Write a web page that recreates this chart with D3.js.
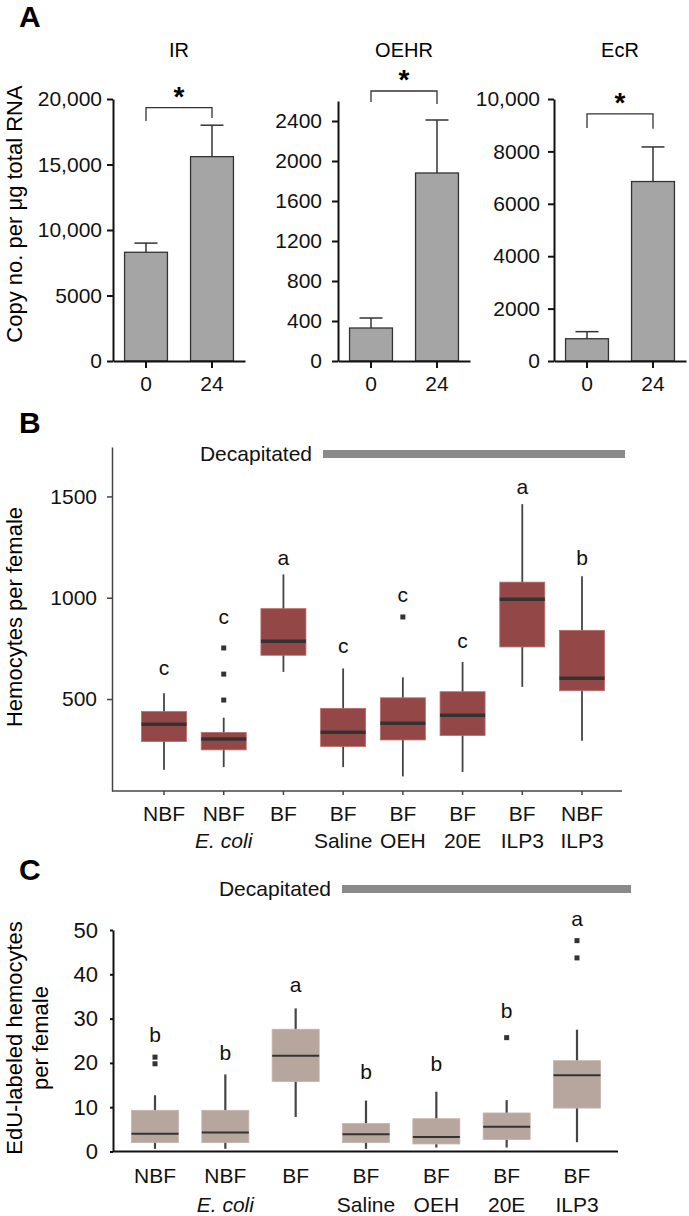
<!DOCTYPE html>
<html><head><meta charset="utf-8">
<script src="https://cdn.jsdelivr.net/npm/d3@7"></script>
<style>body{margin:0;background:#fff}svg{display:block;font-family:"Liberation Sans",Arial,Helvetica,sans-serif}</style>
</head><body><svg id="c" width="689" height="1216"></svg>
<script>
// ---------- Panel A data ----------
const aGenes = ["IR", "OEHR", "EcR"];
const aTimes = ["0", "24"];
const irMean = [8300, 15600];
const irSem = [700, 2400];
const oehrMean = [330, 1880];
const oehrSem = [100, 530];
const ecrMean = [850, 6850];
const ecrSem = [270, 1320];
const irTicks = [0, 5000, 10000, 15000, 20000];
const oehrTicks = [0, 400, 800, 1200, 1600, 2000, 2400];
const ecrTicks = [0, 2000, 4000, 6000, 8000, 10000];
const aMax = [20000, 2600, 10000];
// significance brackets: [bracket level, left drop end, right drop end]
const irBracket = [19340, 18320, 18550];
const oehrBracket = [2700, 2590, 2570];
const ecrBracket = [9430, 8890, 8860];

// ---------- Panel B data ----------
const bLine1 = ["NBF", "NBF", "BF", "BF", "BF", "BF", "BF", "NBF"];
const bLine2 = ["", "E. coli", "", "Saline", "OEH", "20E", "ILP3", "ILP3"];
const bLo = [151, 164, 634, 164, 118, 140, 560, 294];
const bQ1 = [290, 249, 716, 266, 298, 320, 757, 541];
const bMed = [375, 303, 785, 336, 380, 420, 992, 602];
const bQ3 = [438, 335, 946, 454, 506, 536, 1077, 839];
const bHi = [528, 408, 1115, 651, 607, 683, 1462, 1106];
const bOut = [[], [752, 623, 495], [], [], [905], [], [], []];
const bLetters = ["c", "c", "a", "c", "c", "c", "a", "b"];
const bLetterAt = [618, 869, 1164, 726, 978, 754, 1511, 1164];
const bTicks = [500, 1000, 1500];

// ---------- Panel C data ----------
const cLine1 = ["NBF", "NBF", "BF", "BF", "BF", "BF", "BF"];
const cLine2 = ["", "E. coli", "", "Saline", "OEH", "20E", "ILP3"];
const cLo = [0.6, 0.6, 7.8, 0.6, 0.9, 0.9, 2.1];
const cQ1 = [2.0, 2.0, 15.8, 2.0, 1.7, 2.7, 9.8];
const cMed = [4.0, 4.3, 21.6, 3.9, 3.3, 5.6, 17.2];
const cQ3 = [9.3, 9.3, 27.6, 6.3, 7.4, 8.7, 20.5];
const cHi = [12.7, 17.4, 32.3, 11.5, 13.5, 11.6, 27.5];
const cOut = [[19.8, 21.3], [], [], [], [], [25.7], [43.7, 47.6]];
const cLetters = ["b", "b", "a", "b", "b", "b", "a"];
const cLetterAt = [24.8, 20.7, 36.1, 16.4, 18.1, 30.2, 50.8];
const cTicks = [0, 10, 20, 30, 40, 50];

const svg = d3.select("#c");

// panel letters
svg.append("text").attr("x", 19).attr("y", 27).attr("font-size", 30).attr("font-weight", "bold").text("A");
svg.append("text").attr("x", 19).attr("y", 433).attr("font-size", 30).attr("font-weight", "bold").text("B");
svg.append("text").attr("x", 19).attr("y", 880).attr("font-size", 30).attr("font-weight", "bold").text("C");

// ---------- Panel A ----------
const aMeans = [irMean, oehrMean, ecrMean];
const aSems = [irSem, oehrSem, ecrSem];
const aTickSets = [irTicks, oehrTicks, ecrTicks];
const aBrackets = [irBracket, oehrBracket, ecrBracket];
const aAxisX = [113, 338, 554];
const aTop = [99, 101, 99];
const aPad = [5, 10, 8];
const aBase = 361;
const fmtA = v => v >= 10000 ? d3.format(",")(v) : String(v);

aGenes.forEach((g, i) => {
  const gx = svg.append("g").attr("transform", `translate(${aAxisX[i]},0)`);
  const y = d3.scaleLinear().domain([0, aMax[i]]).range([aBase, aTop[i]]);
  const x = d3.scaleBand().domain(aTimes).range([0, 132]).paddingInner(0.35).paddingOuter(0.175);
  gx.selectAll("rect.bar").data(aMeans[i]).join("rect")
    .attr("x", (d, j) => x(aTimes[j])).attr("width", x.bandwidth())
    .attr("y", d => y(d)).attr("height", d => aBase - y(d))
    .attr("fill", "#a5a5a5").attr("stroke", "#333").attr("stroke-width", 1.3);
  aMeans[i].forEach((m, j) => {
    const cx = x(aTimes[j]) + x.bandwidth() / 2;
    gx.append("line").attr("x1", cx).attr("x2", cx).attr("y1", y(m)).attr("y2", y(m + aSems[i][j]))
      .attr("stroke", "#333").attr("stroke-width", 1.5);
    gx.append("line").attr("x1", cx - 11.5).attr("x2", cx + 11.5).attr("y1", y(m + aSems[i][j])).attr("y2", y(m + aSems[i][j]))
      .attr("stroke", "#333").attr("stroke-width", 1.5);
  });
  const ya = gx.append("g").call(d3.axisLeft(y).tickValues(aTickSets[i]).tickFormat(fmtA).tickSize(6).tickSizeOuter(0).tickPadding(aPad[i]));
  const xa = gx.append("g").attr("transform", `translate(0,${aBase})`).call(d3.axisBottom(x).tickSize(7).tickSizeOuter(0).tickPadding(8));
  [ya, xa].forEach(a => {
    a.selectAll("path,line").attr("stroke", "#111").attr("stroke-width", 2);
    a.selectAll("text").attr("font-size", 21).attr("fill", "#111").attr("font-family", null);
  });
  gx.append("text").attr("x", 66).attr("y", 57).attr("text-anchor", "middle").attr("font-size", 20).text(g);
  const br = aBrackets[i];
  const x0 = x(aTimes[0]) + x.bandwidth() / 2, x1 = x(aTimes[1]) + x.bandwidth() / 2;
  gx.append("path").attr("d", `M${x0},${y(br[1])}V${y(br[0])}H${x1}V${y(br[2])}`)
    .attr("fill", "none").attr("stroke", "#333").attr("stroke-width", 1.3);
  gx.append("text").attr("x", (x0 + x1) / 2).attr("y", y(br[0]) - 2).attr("text-anchor", "middle")
    .attr("font-size", 28).attr("font-weight", "bold").text("*");
});
svg.append("text").attr("transform", "translate(21.5,214) rotate(-90)").attr("text-anchor", "middle")
  .attr("font-size", 22).text("Copy no. per μg total RNA");

// ---------- box plot helper ----------
function boxPanel(cfg) {
  const g = svg.append("g");
  const cats = cfg.line1.map((d, i) => i);
  const x = d3.scalePoint().domain(cats).range(cfg.xRange);
  const y = d3.scaleLinear().domain(cfg.yDomain).range(cfg.yRange);
  const hw = cfg.boxW / 2;
  cats.forEach(i => {
    const cx = x(i);
    g.append("line").attr("x1", cx).attr("x2", cx).attr("y1", y(cfg.lo[i])).attr("y2", y(cfg.hi[i]))
      .attr("stroke", "#444").attr("stroke-width", cfg.whiskerW);
    g.append("rect").attr("x", cx - hw).attr("width", cfg.boxW)
      .attr("y", y(cfg.q3[i])).attr("height", y(cfg.q1[i]) - y(cfg.q3[i]))
      .attr("fill", cfg.fill).attr("stroke", cfg.boxStroke).attr("stroke-width", 0.8);
    g.append("line").attr("x1", cx - hw).attr("x2", cx + hw).attr("y1", y(cfg.med[i])).attr("y2", y(cfg.med[i]))
      .attr("stroke", "#333").attr("stroke-width", cfg.medW);
    cfg.out[i].forEach(o => {
      g.append("rect").attr("x", cx - 2.5).attr("y", y(o) - 2.5).attr("width", 5).attr("height", 5).attr("fill", "#333");
    });
    g.append("text").attr("x", cx).attr("y", y(cfg.letterAt[i])).attr("text-anchor", "middle")
      .attr("font-size", 21).attr("fill", "#111").text(cfg.letters[i]);
    const t = g.append("text").attr("text-anchor", "middle").attr("font-size", 21).attr("fill", "#111");
    t.append("tspan").attr("x", cx).attr("y", cfg.lab1Y).text(cfg.line1[i]);
    if (cfg.line2[i]) t.append("tspan").attr("x", cx).attr("y", cfg.lab2Y)
      .attr("font-style", cfg.line2[i] === "E. coli" ? "italic" : null).text(cfg.line2[i]);
  });
  const ya = g.append("g").attr("transform", `translate(${cfg.axisX},0)`)
    .call(d3.axisLeft(y).tickValues(cfg.ticks).tickFormat(d3.format("d")).tickSize(cfg.yTick).tickSizeOuter(0).tickPadding(cfg.yPad));
  ya.selectAll("path,line").attr("stroke", cfg.axisColor).attr("stroke-width", cfg.axisW);
  ya.selectAll("text").attr("font-size", cfg.tickFont).attr("fill", "#111").attr("font-family", null);
  g.append("line").attr("x1", cfg.axisX).attr("x2", cfg.xAxisEnd).attr("y1", cfg.yRange[0]).attr("y2", cfg.yRange[0])
    .attr("stroke", cfg.axisColor).attr("stroke-width", cfg.axisW);
  if (cfg.xTicks) {
    cats.forEach(i => g.append("line").attr("x1", x(i)).attr("x2", x(i)).attr("y1", cfg.yRange[0]).attr("y2", cfg.yRange[0] + 4)
      .attr("stroke", cfg.axisColor).attr("stroke-width", cfg.axisW));
  }
  g.append("text").attr("x", cfg.decap[0] - 11).attr("y", cfg.decapY + 7).attr("text-anchor", "end")
    .attr("font-size", 21).attr("fill", "#111").text("Decapitated");
  g.append("line").attr("x1", cfg.decap[0]).attr("x2", cfg.decap[1]).attr("y1", cfg.decapY).attr("y2", cfg.decapY)
    .attr("stroke", "#8a8a8a").attr("stroke-width", 8);
  return g;
}

boxPanel({
  line1: bLine1, line2: bLine2, lo: bLo, q1: bQ1, med: bMed, q3: bQ3, hi: bHi, out: bOut,
  letters: bLetters, letterAt: bLetterAt, ticks: bTicks,
  xRange: [164, 582], yDomain: [46, 1744], yRange: [791, 447], boxW: 45,
  fill: "#944747", boxStroke: "#b86b6b", whiskerW: 1.8, medW: 3.5,
  lab1Y: 821, lab2Y: 848, axisX: 112, xAxisEnd: 622, yTick: 5, yPad: 10,
  axisColor: "#444", axisW: 1.5, tickFont: 21, xTicks: true, decap: [323, 625], decapY: 454
});
svg.append("text").attr("transform", "translate(21.5,617) rotate(-90)").attr("text-anchor", "middle")
  .attr("font-size", 22).text("Hemocytes per female");

boxPanel({
  line1: cLine1, line2: cLine2, lo: cLo, q1: cQ1, med: cMed, q3: cQ3, hi: cHi, out: cOut,
  letters: cLetters, letterAt: cLetterAt, ticks: cTicks,
  xRange: [155, 577], yDomain: [0, 50], yRange: [1151.5, 930], boxW: 47,
  fill: "#b6a69e", boxStroke: "#c2b4ad", whiskerW: 2.2, medW: 2,
  lab1Y: 1183, lab2Y: 1212, axisX: 113, xAxisEnd: 618, yTick: 3, yPad: 12,
  axisColor: "#111", axisW: 2, tickFont: 22, xTicks: false, decap: [342, 631], decapY: 889
});
const ct = svg.append("text").attr("transform", "translate(0,1038) rotate(-90)").attr("text-anchor", "middle").attr("font-size", 22);
ct.append("tspan").attr("x", 0).attr("y", 21.5).text("EdU-labeled hemocytes");
ct.append("tspan").attr("x", 0).attr("y", 48).text("per female");
</script></body></html>
